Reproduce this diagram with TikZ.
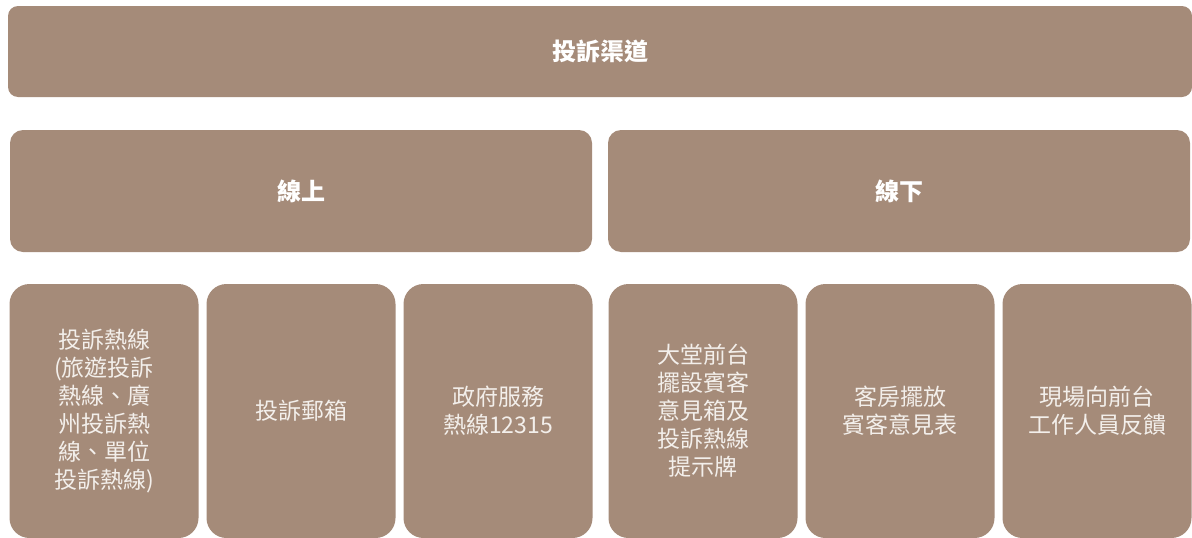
\documentclass[tikz,border=0pt]{standalone}
\usepackage{fontspec}
\setmainfont{Noto Sans CJK TC}
\definecolor{boxfill}{HTML}{A58B79}
\definecolor{txtlight}{HTML}{F3EFEB}
\tikzset{
  basebox/.style={fill=boxfill, draw=none, inner sep=0pt, align=center},
  topbox/.style={basebox, rounded corners=10pt, minimum width=1184pt, minimum height=91pt,
    text=white, font=\fontsize{24}{29}\selectfont\bfseries},
  midbox/.style={basebox, rounded corners=13pt, minimum width=582pt, minimum height=122pt,
    text=white, font=\fontsize{24}{29}\selectfont\bfseries},
  leafbox/.style={basebox, rounded corners=20pt, minimum width=189pt, minimum height=254pt,
    text=txtlight, font=\fontsize{23}{28}\selectfont},
}
\begin{document}
\begin{tikzpicture}[x=1pt,y=-1pt]
\useasboundingbox (0,0) rectangle (1192,538);
\node[topbox] (root) at (600,51.5) {投訴渠道};
\node[midbox] (online) at (301,191) {線上};
\node[midbox] (offline) at (899,191) {線下};
\node[leafbox] (l1) at (104,411) {投訴熱線\\(旅遊投訴\\熱線、廣\\州投訴熱\\線、單位\\投訴熱線)};
\node[leafbox] (l2) at (301,411) {投訴郵箱};
\node[leafbox] (l3) at (498,411) {政府服務\\熱線12315};
\node[leafbox] (r1) at (703,411) {大堂前台\\擺設賓客\\意見箱及\\投訴熱線\\提示牌};
\node[leafbox] (r2) at (900,411) {客房擺放\\賓客意見表};
\node[leafbox] (r3) at (1097,411) {現場向前台\\工作人員反饋};
\end{tikzpicture}
\end{document}
